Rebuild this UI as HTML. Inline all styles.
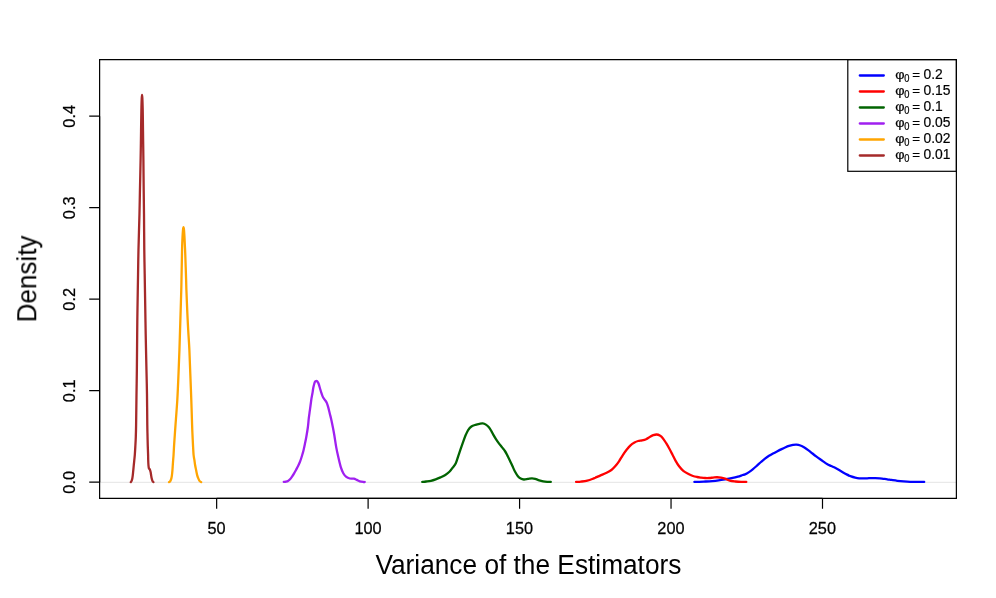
<!DOCTYPE html>
<html><head><meta charset="utf-8"><title>Density plot</title>
<style>html,body{margin:0;padding:0;background:#fff}svg{display:block}text{font-family:"Liberation Sans",sans-serif;fill:#000}</style></head>
<body>
<svg width="996" height="598" viewBox="0 0 996 598">
<rect width="996" height="598" fill="#fff"/>
<g opacity="0.999">
<line x1="99.6" y1="482.34" x2="956.3" y2="482.34" stroke="#e9e9e9" stroke-width="1.32"/>
<path d="M694.40,481.90C695.22,481.88 697.42,481.87 699.30,481.80C701.18,481.73 703.55,481.62 705.70,481.50C707.85,481.38 710.05,481.25 712.20,481.05C714.35,480.86 716.47,480.62 718.60,480.33C720.73,480.04 722.87,479.69 725.00,479.34C727.13,478.98 729.25,478.64 731.40,478.20C733.55,477.76 736.02,477.23 737.90,476.70C739.78,476.17 741.52,475.38 742.70,475.00C743.88,474.62 743.95,474.88 745.00,474.40C746.05,473.92 747.67,472.98 749.00,472.10C750.33,471.22 751.67,470.18 753.00,469.10C754.33,468.02 755.67,466.78 757.00,465.60C758.33,464.42 759.67,463.17 761.00,462.00C762.33,460.83 763.67,459.63 765.00,458.60C766.33,457.57 767.67,456.65 769.00,455.80C770.33,454.95 771.67,454.23 773.00,453.50C774.33,452.77 775.67,452.08 777.00,451.40C778.33,450.72 779.67,450.05 781.00,449.40C782.33,448.75 783.67,448.08 785.00,447.50C786.33,446.92 787.67,446.33 789.00,445.90C790.33,445.47 791.77,445.12 793.00,444.90C794.23,444.68 795.17,444.50 796.40,444.60C797.63,444.70 799.07,445.02 800.40,445.50C801.73,445.98 803.05,446.70 804.40,447.50C805.75,448.30 807.15,449.30 808.50,450.30C809.85,451.30 811.17,452.45 812.50,453.50C813.83,454.55 815.22,455.63 816.50,456.60C817.78,457.57 819.03,458.47 820.20,459.30C821.37,460.13 822.37,460.82 823.50,461.60C824.63,462.38 825.73,463.27 827.00,464.00C828.27,464.73 829.75,465.37 831.10,466.00C832.45,466.63 833.77,467.13 835.10,467.80C836.43,468.47 837.77,469.23 839.10,470.00C840.43,470.77 841.77,471.63 843.10,472.40C844.43,473.17 845.77,473.93 847.10,474.60C848.43,475.27 849.75,475.90 851.10,476.40C852.45,476.90 853.85,477.28 855.20,477.60C856.55,477.92 857.87,478.17 859.20,478.30C860.53,478.43 861.87,478.40 863.20,478.40C864.53,478.40 865.87,478.35 867.20,478.30C868.53,478.25 869.87,478.13 871.20,478.10C872.53,478.07 873.77,478.07 875.20,478.10C876.63,478.13 878.45,478.18 879.80,478.30C881.15,478.42 882.05,478.63 883.30,478.80C884.55,478.97 885.93,479.14 887.30,479.34C888.67,479.53 889.83,479.73 891.50,479.97C893.17,480.21 895.27,480.54 897.30,480.78C899.33,481.02 901.55,481.24 903.70,481.41C905.85,481.58 907.78,481.72 910.20,481.80C912.62,481.88 915.87,481.88 918.20,481.90C920.53,481.92 923.20,481.90 924.20,481.90" fill="none" stroke="#0000FF" stroke-width="2.3" stroke-linecap="round" stroke-linejoin="round"/>
<path d="M576.10,481.90C576.90,481.85 579.03,481.80 580.90,481.60C582.77,481.40 585.17,481.22 587.30,480.69C589.43,480.16 591.57,479.25 593.70,478.40C595.83,477.55 597.95,476.53 600.10,475.60C602.25,474.67 604.72,473.73 606.60,472.80C608.48,471.87 609.93,471.13 611.40,470.00C612.87,468.87 614.13,467.45 615.40,466.00C616.67,464.55 617.78,463.08 619.00,461.30C620.22,459.52 621.43,457.22 622.70,455.30C623.97,453.38 625.30,451.47 626.60,449.80C627.90,448.13 629.18,446.52 630.50,445.30C631.82,444.08 633.23,443.22 634.50,442.50C635.77,441.78 636.83,441.35 638.10,441.00C639.37,440.65 640.77,440.70 642.10,440.40C643.43,440.10 644.77,439.80 646.10,439.20C647.43,438.60 648.90,437.47 650.10,436.80C651.30,436.13 652.22,435.58 653.30,435.20C654.38,434.82 655.52,434.43 656.60,434.50C657.68,434.57 658.73,434.95 659.80,435.60C660.87,436.25 661.93,437.13 663.00,438.40C664.07,439.67 665.13,441.47 666.20,443.20C667.27,444.93 668.37,446.92 669.40,448.80C670.43,450.68 671.38,452.53 672.40,454.50C673.42,456.47 674.38,458.63 675.50,460.60C676.62,462.57 677.80,464.58 679.10,466.30C680.40,468.02 681.65,469.58 683.30,470.90C684.95,472.22 687.38,473.35 689.00,474.20C690.62,475.05 691.67,475.53 693.00,476.00C694.33,476.47 695.65,476.73 697.00,477.00C698.35,477.27 699.75,477.43 701.10,477.60C702.45,477.77 703.77,477.93 705.10,478.00C706.43,478.07 707.77,478.07 709.10,478.00C710.43,477.93 711.77,477.73 713.10,477.60C714.43,477.48 715.77,477.23 717.10,477.25C718.43,477.27 719.78,477.46 721.10,477.70C722.42,477.94 723.55,478.20 725.00,478.70C726.45,479.20 728.05,480.22 729.80,480.69C731.55,481.16 733.62,481.30 735.50,481.50C737.38,481.70 739.30,481.83 741.10,481.90C742.90,481.97 745.43,481.90 746.30,481.90" fill="none" stroke="#FF0000" stroke-width="2.3" stroke-linecap="round" stroke-linejoin="round"/>
<path d="M422.20,481.90C422.85,481.83 424.65,481.69 426.10,481.50C427.55,481.31 429.30,481.14 430.90,480.78C432.50,480.42 434.10,479.90 435.70,479.34C437.30,478.78 438.90,478.12 440.50,477.40C442.10,476.68 443.82,475.93 445.30,475.00C446.78,474.07 448.18,473.00 449.40,471.80C450.62,470.60 451.53,469.23 452.60,467.80C453.67,466.37 454.82,465.27 455.80,463.20C456.78,461.13 457.62,457.98 458.50,455.40C459.38,452.82 460.27,450.13 461.10,447.70C461.93,445.27 462.72,442.95 463.50,440.80C464.28,438.65 465.00,436.63 465.80,434.80C466.60,432.97 467.37,431.18 468.30,429.80C469.23,428.42 470.20,427.33 471.40,426.50C472.60,425.67 474.15,425.25 475.50,424.80C476.85,424.35 478.30,424.03 479.50,423.80C480.70,423.57 481.63,423.27 482.70,423.40C483.77,423.53 484.87,423.95 485.90,424.60C486.93,425.25 487.98,426.22 488.90,427.30C489.82,428.38 490.60,429.75 491.40,431.10C492.20,432.45 492.92,434.02 493.70,435.40C494.48,436.78 495.23,438.07 496.10,439.40C496.97,440.73 497.90,442.07 498.90,443.40C499.90,444.73 501.10,446.13 502.10,447.40C503.10,448.67 504.05,449.72 504.90,451.00C505.75,452.28 506.42,453.60 507.20,455.10C507.98,456.60 508.75,458.22 509.60,460.00C510.45,461.78 511.38,463.83 512.30,465.80C513.22,467.77 514.17,470.07 515.10,471.80C516.03,473.53 516.97,475.07 517.90,476.20C518.83,477.33 519.70,478.05 520.70,478.60C521.70,479.15 522.70,479.46 523.90,479.52C525.10,479.58 526.57,479.17 527.90,478.98C529.23,478.79 530.68,478.41 531.90,478.40C533.12,478.38 533.98,478.57 535.20,478.89C536.42,479.21 537.87,479.92 539.20,480.33C540.53,480.74 541.87,481.07 543.20,481.32C544.53,481.56 545.93,481.70 547.20,481.80C548.47,481.90 550.20,481.88 550.80,481.90" fill="none" stroke="#006400" stroke-width="2.3" stroke-linecap="round" stroke-linejoin="round"/>
<path d="M283.80,481.90C284.17,481.85 285.30,481.77 286.00,481.60C286.70,481.43 287.32,481.28 288.00,480.90C288.68,480.52 289.38,480.01 290.05,479.30C290.73,478.59 291.38,477.62 292.05,476.65C292.73,475.67 293.43,474.59 294.10,473.45C294.78,472.31 295.43,471.04 296.10,469.80C296.77,468.56 297.47,467.30 298.10,466.00C298.73,464.70 299.37,463.33 299.90,462.00C300.43,460.67 300.87,459.33 301.30,458.00C301.73,456.67 302.12,455.33 302.50,454.00C302.88,452.67 303.20,451.67 303.60,450.00C304.00,448.33 304.45,446.17 304.90,444.00C305.35,441.83 305.80,439.83 306.30,437.00C306.80,434.17 307.48,430.13 307.90,427.00C308.32,423.87 308.47,421.00 308.80,418.20C309.13,415.40 309.49,413.23 309.90,410.20C310.31,407.17 310.92,402.35 311.25,400.00C311.58,397.65 311.67,397.42 311.90,396.10C312.13,394.78 312.42,393.45 312.65,392.10C312.88,390.75 312.99,389.35 313.25,388.00C313.51,386.65 313.93,385.00 314.20,384.00C314.47,383.00 314.60,382.46 314.85,382.00C315.10,381.54 315.44,381.42 315.70,381.25C315.96,381.08 316.17,381.00 316.40,381.00C316.63,381.00 316.88,381.08 317.10,381.25C317.32,381.42 317.43,381.54 317.70,382.00C317.97,382.46 318.33,383.00 318.70,384.00C319.07,385.00 319.50,386.65 319.90,388.00C320.30,389.35 320.67,390.75 321.10,392.10C321.53,393.45 322.00,394.97 322.50,396.10C323.00,397.23 323.58,398.12 324.10,398.90C324.62,399.68 325.13,400.10 325.60,400.80C326.07,401.50 326.47,402.05 326.90,403.10C327.33,404.15 327.73,405.42 328.20,407.10C328.67,408.78 329.20,411.18 329.70,413.20C330.20,415.22 330.72,417.07 331.20,419.20C331.68,421.33 332.10,423.45 332.60,426.00C333.10,428.55 333.60,430.98 334.20,434.50C334.80,438.02 335.52,443.33 336.20,447.10C336.88,450.87 337.53,453.75 338.30,457.10C339.07,460.45 339.97,464.52 340.80,467.20C341.63,469.88 342.38,471.58 343.30,473.20C344.22,474.82 345.22,476.02 346.30,476.90C347.38,477.78 348.55,478.20 349.80,478.50C351.05,478.80 352.63,478.47 353.80,478.70C354.97,478.93 355.80,479.47 356.80,479.90C357.80,480.33 358.70,480.95 359.80,481.30C360.90,481.65 362.58,481.88 363.40,482.00C364.22,482.12 364.48,482.00 364.70,482.00" fill="none" stroke="#A020F0" stroke-width="2.3" stroke-linecap="round" stroke-linejoin="round"/>
<path d="M169.00,482.10C169.22,481.93 169.92,481.68 170.30,481.10C170.68,480.52 171.03,479.60 171.30,478.60C171.58,477.60 171.76,476.52 171.95,475.10C172.14,473.68 172.31,471.78 172.45,470.10C172.59,468.42 172.68,466.68 172.80,465.00C172.92,463.32 173.03,461.67 173.15,460.00C173.28,458.33 173.39,457.48 173.55,455.00C173.71,452.52 173.89,448.43 174.10,445.10C174.31,441.77 174.57,438.35 174.80,435.00C175.03,431.65 175.08,430.83 175.50,425.00C175.92,419.17 176.80,408.50 177.30,400.00C177.80,391.50 178.15,382.33 178.50,374.00C178.85,365.67 179.17,357.33 179.43,350.00C179.69,342.67 179.86,336.00 180.05,330.00C180.24,324.00 180.35,320.67 180.55,314.00C180.75,307.33 181.11,295.83 181.27,290.00C181.43,284.17 181.38,284.83 181.50,279.00C181.62,273.17 181.85,260.50 181.96,255.00C182.07,249.50 182.06,248.90 182.15,246.00C182.24,243.10 182.36,240.30 182.50,237.60C182.64,234.90 182.83,231.53 183.00,229.80C183.17,228.07 183.33,227.20 183.50,227.20C183.67,227.20 183.83,228.07 184.00,229.80C184.17,231.53 184.35,234.90 184.50,237.60C184.65,240.30 184.77,243.10 184.90,246.00C185.03,248.90 185.09,249.50 185.29,255.00C185.49,260.50 185.91,273.17 186.09,279.00C186.28,284.83 186.19,284.17 186.40,290.00C186.62,295.83 187.08,307.33 187.38,314.00C187.68,320.67 187.86,324.00 188.20,330.00C188.53,336.00 189.04,342.67 189.39,350.00C189.74,357.33 189.99,365.67 190.31,374.00C190.63,382.33 191.00,391.50 191.30,400.00C191.60,408.50 191.90,419.17 192.10,425.00C192.30,430.83 192.35,431.65 192.50,435.00C192.65,438.35 192.82,441.77 193.00,445.10C193.18,448.43 193.37,452.52 193.60,455.00C193.83,457.48 194.15,458.33 194.40,460.00C194.65,461.67 194.82,463.32 195.10,465.00C195.38,466.68 195.76,468.42 196.10,470.10C196.44,471.78 196.77,473.68 197.15,475.10C197.53,476.52 197.98,477.60 198.40,478.60C198.82,479.60 199.23,480.52 199.70,481.10C200.17,481.68 200.95,481.93 201.20,482.10" fill="none" stroke="#FFA500" stroke-width="2.3" stroke-linecap="round" stroke-linejoin="round"/>
<path d="M130.80,482.10C130.92,481.93 131.25,481.68 131.50,481.10C131.75,480.52 132.08,479.60 132.30,478.60C132.52,477.60 132.63,476.52 132.80,475.10C132.97,473.68 133.13,471.78 133.30,470.10C133.47,468.42 133.63,466.68 133.80,465.00C133.97,463.32 134.13,461.67 134.30,460.00C134.47,458.33 134.63,457.17 134.80,455.00C134.97,452.83 135.13,450.00 135.30,447.00C135.47,444.00 135.67,440.67 135.80,437.00C135.93,433.33 135.98,432.17 136.10,425.00C136.22,417.83 136.37,403.17 136.50,394.00C136.63,384.83 136.75,380.00 136.86,370.00C136.97,360.00 137.08,344.00 137.18,334.00C137.28,324.00 137.31,320.00 137.46,310.00C137.61,300.00 137.89,284.00 138.06,274.00C138.23,264.00 138.24,260.00 138.47,250.00C138.70,240.00 139.22,224.00 139.47,214.00C139.72,204.00 139.76,199.00 139.95,190.00C140.14,181.00 140.44,168.00 140.60,160.00C140.76,152.00 140.79,149.00 140.90,142.00C141.01,135.00 141.16,123.77 141.25,118.00C141.34,112.23 141.37,110.73 141.45,107.40C141.53,104.07 141.65,100.10 141.75,98.00C141.85,95.90 141.95,94.80 142.05,94.80C142.15,94.80 142.25,95.90 142.35,98.00C142.45,100.10 142.57,104.07 142.65,107.40C142.73,110.73 142.77,112.23 142.85,118.00C142.93,123.77 143.06,135.00 143.15,142.00C143.24,149.00 143.31,152.00 143.40,160.00C143.49,168.00 143.60,181.00 143.70,190.00C143.80,199.00 143.90,204.00 144.00,214.00C144.10,224.00 144.17,240.00 144.29,250.00C144.41,260.00 144.52,264.00 144.69,274.00C144.86,284.00 145.12,300.00 145.29,310.00C145.46,320.00 145.50,324.00 145.69,334.00C145.88,344.00 146.25,360.00 146.46,370.00C146.68,380.00 146.84,384.83 146.98,394.00C147.12,403.17 147.21,418.17 147.30,425.00C147.39,431.83 147.43,431.65 147.50,435.00C147.57,438.35 147.65,441.77 147.75,445.10C147.85,448.43 148.03,452.52 148.10,455.00C148.17,457.48 148.14,458.33 148.20,460.00C148.26,461.67 148.34,463.66 148.45,465.00C148.56,466.34 148.62,467.29 148.85,468.05C149.08,468.81 149.56,468.88 149.85,469.55C150.14,470.23 150.39,471.18 150.60,472.10C150.81,473.03 150.93,474.10 151.10,475.10C151.27,476.10 151.38,477.14 151.60,478.10C151.82,479.06 152.10,480.18 152.40,480.85C152.70,481.52 153.23,481.89 153.40,482.10" fill="none" stroke="#A52A2A" stroke-width="2.3" stroke-linecap="round" stroke-linejoin="round"/>
<path d="M99.62,59.6H956.38V498.37H99.62Z" fill="none" stroke="#000" stroke-width="1.2"/>
<path d="M216.65,498.37H822.5M216.65,498.37V508.77M368.11,498.37V508.77M519.58,498.37V508.77M671.04,498.37V508.77M822.5,498.37V508.77" stroke="#000" stroke-width="1.2" fill="none"/>
<path d="M99.62,482.2V116.2M99.62,482.2H89.22M99.62,390.7H89.22M99.62,299.2H89.22M99.62,207.7H89.22M99.62,116.2H89.22" stroke="#000" stroke-width="1.2" fill="none"/>
<text transform="translate(216.55,534.05) scale(0.98,1.04)" font-size="16.67" text-anchor="middle" stroke="#000" stroke-width="0.25">50</text>
<text transform="translate(368.01,534.05) scale(0.98,1.04)" font-size="16.67" text-anchor="middle" stroke="#000" stroke-width="0.25">100</text>
<text transform="translate(519.48,534.05) scale(0.98,1.04)" font-size="16.67" text-anchor="middle" stroke="#000" stroke-width="0.25">150</text>
<text transform="translate(670.94,534.05) scale(0.98,1.04)" font-size="16.67" text-anchor="middle" stroke="#000" stroke-width="0.25">200</text>
<text transform="translate(822.4,534.05) scale(0.98,1.04)" font-size="16.67" text-anchor="middle" stroke="#000" stroke-width="0.25">250</text>
<text transform="translate(75.1,482.35) rotate(-90) scale(0.98,1.04)" font-size="16.67" text-anchor="middle" stroke="#000" stroke-width="0.25">0.0</text>
<text transform="translate(75.1,390.85) rotate(-90) scale(0.98,1.04)" font-size="16.67" text-anchor="middle" stroke="#000" stroke-width="0.25">0.1</text>
<text transform="translate(75.1,299.35) rotate(-90) scale(0.98,1.04)" font-size="16.67" text-anchor="middle" stroke="#000" stroke-width="0.25">0.2</text>
<text transform="translate(75.1,207.85) rotate(-90) scale(0.98,1.04)" font-size="16.67" text-anchor="middle" stroke="#000" stroke-width="0.25">0.3</text>
<text transform="translate(75.1,116.35) rotate(-90) scale(0.98,1.04)" font-size="16.67" text-anchor="middle" stroke="#000" stroke-width="0.25">0.4</text>
<text transform="translate(528.4,573.6) scale(1,1.035)" font-size="26.27" text-anchor="middle" >Variance of the Estimators</text>
<text transform="translate(36.1,278.9) rotate(-90) scale(0.993,1.035)" font-size="26.27" text-anchor="middle" >Density</text>
<rect x="847.8" y="59.6" width="108.58" height="111.7" fill="none" stroke="#000" stroke-width="1.2"/>
<line x1="859.8" y1="75.5" x2="883.8" y2="75.5" stroke="#0000FF" stroke-width="2.3" stroke-linecap="round"/>
<text transform="translate(895.2,79.25) scale(1.08,1.02)" font-size="13.33" stroke="#000" stroke-width="0.2">φ</text>
<text transform="translate(904.2,81.95) scale(1.0,1.14)" font-size="9.33" stroke="#000" stroke-width="0.2">0</text>
<text transform="translate(912.2,79.25) scale(1.0,1.001)" font-size="13.33" stroke="#000" stroke-width="0.2">=</text>
<text transform="translate(923.5,79.25) scale(1.04,1.08)" font-size="13.33" stroke="#000" stroke-width="0.2">0.2</text>
<line x1="859.8" y1="91.5" x2="883.8" y2="91.5" stroke="#FF0000" stroke-width="2.3" stroke-linecap="round"/>
<text transform="translate(895.2,95.25) scale(1.08,1.02)" font-size="13.33" stroke="#000" stroke-width="0.2">φ</text>
<text transform="translate(904.2,97.95) scale(1.0,1.14)" font-size="9.33" stroke="#000" stroke-width="0.2">0</text>
<text transform="translate(912.2,95.25) scale(1.0,1.001)" font-size="13.33" stroke="#000" stroke-width="0.2">=</text>
<text transform="translate(923.5,95.25) scale(1.04,1.08)" font-size="13.33" stroke="#000" stroke-width="0.2">0.15</text>
<line x1="859.8" y1="107.5" x2="883.8" y2="107.5" stroke="#006400" stroke-width="2.3" stroke-linecap="round"/>
<text transform="translate(895.2,111.25) scale(1.08,1.02)" font-size="13.33" stroke="#000" stroke-width="0.2">φ</text>
<text transform="translate(904.2,113.95) scale(1.0,1.14)" font-size="9.33" stroke="#000" stroke-width="0.2">0</text>
<text transform="translate(912.2,111.25) scale(1.0,1.001)" font-size="13.33" stroke="#000" stroke-width="0.2">=</text>
<text transform="translate(923.5,111.25) scale(1.04,1.08)" font-size="13.33" stroke="#000" stroke-width="0.2">0.1</text>
<line x1="859.8" y1="123.5" x2="883.8" y2="123.5" stroke="#A020F0" stroke-width="2.3" stroke-linecap="round"/>
<text transform="translate(895.2,127.25) scale(1.08,1.02)" font-size="13.33" stroke="#000" stroke-width="0.2">φ</text>
<text transform="translate(904.2,129.95) scale(1.0,1.14)" font-size="9.33" stroke="#000" stroke-width="0.2">0</text>
<text transform="translate(912.2,127.25) scale(1.0,1.001)" font-size="13.33" stroke="#000" stroke-width="0.2">=</text>
<text transform="translate(923.5,127.25) scale(1.04,1.08)" font-size="13.33" stroke="#000" stroke-width="0.2">0.05</text>
<line x1="859.8" y1="139.5" x2="883.8" y2="139.5" stroke="#FFA500" stroke-width="2.3" stroke-linecap="round"/>
<text transform="translate(895.2,143.25) scale(1.08,1.02)" font-size="13.33" stroke="#000" stroke-width="0.2">φ</text>
<text transform="translate(904.2,145.95) scale(1.0,1.14)" font-size="9.33" stroke="#000" stroke-width="0.2">0</text>
<text transform="translate(912.2,143.25) scale(1.0,1.001)" font-size="13.33" stroke="#000" stroke-width="0.2">=</text>
<text transform="translate(923.5,143.25) scale(1.04,1.08)" font-size="13.33" stroke="#000" stroke-width="0.2">0.02</text>
<line x1="859.8" y1="155.5" x2="883.8" y2="155.5" stroke="#A52A2A" stroke-width="2.3" stroke-linecap="round"/>
<text transform="translate(895.2,159.25) scale(1.08,1.02)" font-size="13.33" stroke="#000" stroke-width="0.2">φ</text>
<text transform="translate(904.2,161.95) scale(1.0,1.14)" font-size="9.33" stroke="#000" stroke-width="0.2">0</text>
<text transform="translate(912.2,159.25) scale(1.0,1.001)" font-size="13.33" stroke="#000" stroke-width="0.2">=</text>
<text transform="translate(923.5,159.25) scale(1.04,1.08)" font-size="13.33" stroke="#000" stroke-width="0.2">0.01</text>
</g>
</svg>
</body></html>
